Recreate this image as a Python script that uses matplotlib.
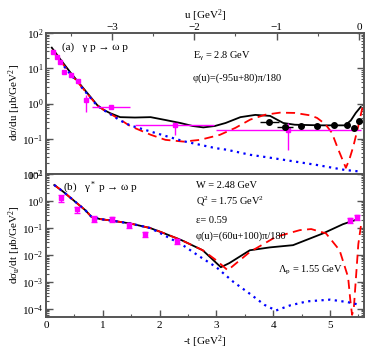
import numpy as np
import matplotlib.pyplot as plt
from matplotlib.ticker import MultipleLocator, LogLocator, NullFormatter

plt.rcParams['font.family'] = ['Liberation Serif', 'DejaVu Serif']
plt.rcParams['mathtext.fontset'] = 'custom'
plt.rcParams['mathtext.rm'] = 'Liberation Serif'
plt.rcParams['mathtext.it'] = 'Liberation Serif:italic'
plt.rcParams['mathtext.bf'] = 'Liberation Serif:bold'

# --- panel (a): photoproduction, x is u [GeV^2] ---
u_black = [-3.73, -3.62, -3.50, -3.38, -3.26, -3.18, -3.10, -3.02, -2.90, -2.72, -2.53, -2.35,
           -2.17, -2.02, -1.89, -1.75, -1.62, -1.44, -1.26, -1.08, -0.92, -0.78, -0.47, -0.17,
           -0.10, -0.04, 0.02]
a_black = [38.4, 17.2, 7.4, 3.37, 1.54, 0.91, 0.66, 0.53, 0.41, 0.40, 0.41, 0.34,
           0.28, 0.23, 0.21, 0.23, 0.28, 0.41, 0.475, 0.445, 0.28, 0.25, 0.24, 0.24,
           0.33, 0.54, 0.80]

u_red = [-3.73, -3.62, -3.50, -3.38, -3.26, -3.18, -3.10, -3.02, -2.90, -2.78, -2.53, -2.35,
         -2.13, -1.93, -1.69, -1.50, -1.32, -1.14, -0.96, -0.78, -0.59, -0.51, -0.41, -0.33,
         -0.26, -0.19, -0.16, -0.12, -0.07, -0.01, 0.04]
a_red = [33.0, 15.5, 6.9, 3.2, 1.48, 0.89, 0.66, 0.51, 0.35, 0.23, 0.13, 0.093,
         0.083, 0.093, 0.129, 0.204, 0.35, 0.48, 0.55, 0.54, 0.46, 0.39, 0.26, 0.148,
         0.055, 0.022, 0.015, 0.025, 0.060, 0.224, 0.76]

u_blue = [-3.73, -3.62, -3.50, -3.38, -3.26, -3.18, -3.10, -3.02, -2.90, -2.78, -2.53, -2.13,
          -1.74, -1.61, -1.32, -1.08, -0.51, -0.17, 0.02]
a_blue = [31.6, 14.8, 6.6, 3.1, 1.45, 0.87, 0.65, 0.50, 0.33, 0.24, 0.16, 0.085,
          0.054, 0.049, 0.035, 0.029, 0.018, 0.013, 0.0117]

u_mag = [-3.72, -3.67, -3.63, -3.58, -3.50, -3.41, -3.31, -3.01, -2.24, -0.86]
a_mag = [29.5, 21.0, 15.5, 7.9, 6.5, 4.4, 1.26, 0.81, 0.25, 0.177]
a_mag_lo = [3.0, 2.0, 1.5, 0.8, 0.6, 0.5, 0.67, 0.10, 0.12, 0.128]
a_mag_hi = [3.0, 2.0, 1.5, 0.8, 0.6, 0.5, 0.50, 0.10, 0.03, 0.10]
u_mag_err = [0.0, 0.0, 0.0, 0.0, 0.0, 0.0, 0.0, 0.23, 0.48, 0.88]

u_circ = [-1.09, -0.90, -0.70, -0.51, -0.30, -0.15, -0.06, 0.0]
a_circ = [0.30, 0.22, 0.23, 0.23, 0.245, 0.24, 0.20, 0.31]
a_circ_err = [0.03, 0.025, 0.02, 0.02, 0.02, 0.02, 0.02, 0.03]
u_circ_err = [0.115, 0.10, 0.03, 0.03, 0.03, 0.03, 0.02, 0.0]

# --- panel (b): electroproduction, x is -t [GeV^2] ---
t_black = [0.146, 0.305, 0.48, 0.69, 0.80, 0.95, 1.18, 1.48, 1.83, 2.02, 2.39, 2.76,
           3.08, 3.23, 3.59, 3.94, 4.35, 4.88, 5.23, 5.49]
b_black = [3.9, 2.2, 1.08, 0.46, 0.26, 0.214, 0.184, 0.147, 0.10, 0.071, 0.035, 0.0149,
           0.0035, 0.005, 0.0149, 0.019, 0.023, 0.063, 0.138, 0.21]

t_red = [0.146, 0.305, 0.48, 0.69, 0.80, 0.95, 1.18, 1.48, 1.83, 2.02, 2.39, 2.76,
         3.0, 3.2, 3.59, 4.05, 4.47, 4.67, 4.93, 5.17, 5.32, 5.36, 5.39, 5.42, 5.46,
         5.50, 5.55]
b_red = [3.9, 2.2, 1.08, 0.46, 0.26, 0.214, 0.184, 0.147, 0.10, 0.071, 0.035, 0.0149,
         0.0063, 0.0027, 0.0129, 0.047, 0.083, 0.091, 0.063, 0.0149, 0.0015, 0.0002,
         0.00006, 0.0001, 0.0016, 0.025, 0.14]

t_blue = [0.146, 0.305, 0.48, 0.69, 0.80, 0.95, 1.18, 1.48, 1.83, 2.02, 2.41, 2.7,
          3.0, 3.3, 3.6, 3.85, 4.05, 4.3, 4.6, 5.0, 5.3, 5.47]
b_blue = [3.9, 2.2, 1.08, 0.46, 0.26, 0.214, 0.184, 0.147, 0.10, 0.063, 0.023, 0.0089,
          0.0035, 0.001, 0.00035, 0.00014, 0.000087, 0.000135, 0.00019, 0.00022, 0.00018,
          0.00015]

t_mag = [0.26, 0.55, 0.85, 1.16, 1.47, 1.74, 2.30, 5.35, 5.47]
b_mag = [1.25, 0.49, 0.22, 0.21, 0.126, 0.059, 0.032, 0.195, 0.245]
b_mag_err = [0.35, 0.12, 0.05, 0.05, 0.025, 0.013, 0.007, 0.04, 0.045]

fig = plt.figure(figsize=(3.66, 3.49), dpi=100)
ax1 = fig.add_axes([46/366, 1-174/349, 318/366, 141/349])
ax2 = fig.add_axes([46/366, 1-317/349, 318/366, 143/349])

fs = 8
spc = '#555555'

# panel (a)
ax1.plot(u_black, a_black, color='black', lw=1.3, zorder=3)
ax1.plot(u_red, a_red, color='red', lw=1.3, ls=(0, (5, 3)), zorder=3)
ax1.plot(u_blue, a_blue, color='blue', lw=1.6, ls=(0, (1, 2)), zorder=3)
ax1.errorbar(u_mag, a_mag, xerr=u_mag_err, yerr=[a_mag_lo, a_mag_hi], fmt='s',
             color='magenta', ms=3.5, elinewidth=1, capsize=0, zorder=4)
ax1.errorbar(u_circ, a_circ, xerr=u_circ_err, yerr=a_circ_err, fmt='o',
             color='black', ms=4, elinewidth=1, capsize=0, zorder=5)
ax1.set_yscale('log')
ax1.set_xlim(-3.8, 0.06)
ax1.set_ylim(1e-2, 1e2)
ax1.xaxis.tick_top()
ax1.xaxis.set_label_position('top')
ax1.xaxis.set_major_locator(MultipleLocator(1))
ax1.xaxis.set_minor_locator(MultipleLocator(0.5))
ax1.set_xlabel('u [GeV$^2$]', fontsize=fs, labelpad=3)
ax1.text(0.05, 0.90, '(a)   γ p → ω p', transform=ax1.transAxes, fontsize=fs, va='center')
ax1.text(0.462, 0.837, 'E$_{\\mathrm{γ}}$ = 2.8 GeV', transform=ax1.transAxes, fontsize=7.5, va='center')
ax1.text(0.462, 0.681, 'φ(u)=(-95u+80)π/180', transform=ax1.transAxes, fontsize=7.5, va='center')

# panel (b)
ax2.plot(t_black, b_black, color='black', lw=1.3, zorder=3)
ax2.plot(t_red, b_red, color='red', lw=1.3, ls=(0, (5, 3)), zorder=3)
ax2.plot(t_blue, b_blue, color='blue', lw=1.6, ls=(0, (1, 2)), zorder=3)
ax2.errorbar(t_mag, b_mag, yerr=b_mag_err, fmt='s', color='magenta', ms=3.5,
             elinewidth=1, capsize=2.5, zorder=4)
ax2.set_yscale('log')
ax2.set_xlim(0, 5.6)
ax2.set_ylim(5e-5, 10)
ax2.xaxis.set_major_locator(MultipleLocator(1))
ax2.xaxis.set_minor_locator(MultipleLocator(0.5))
ax2.set_xlabel('-t [GeV$^2$]', fontsize=fs, labelpad=2.5)
ax2.text(0.053, 0.902, '(b)   γ$^*$ p → ω p', transform=ax2.transAxes, fontsize=fs, va='center')
ax2.text(0.472, 0.923, 'W = 2.48 GeV', transform=ax2.transAxes, fontsize=7.5, va='center')
ax2.text(0.472, 0.806, 'Q$^2$ = 1.75 GeV$^2$', transform=ax2.transAxes, fontsize=7.5, va='center')
ax2.text(0.472, 0.678, 'ε= 0.59', transform=ax2.transAxes, fontsize=7.5, va='center')
ax2.text(0.472, 0.566, 'φ(u)=(60u+100)π/180', transform=ax2.transAxes, fontsize=7.5, va='center')
ax2.text(0.73, 0.329, 'Λ$_{\\mathrm{p}}$ = 1.55 GeV', transform=ax2.transAxes, fontsize=7.5, va='center')

for ax in (ax1, ax2):
    ax.yaxis.set_major_locator(LogLocator(base=10, numticks=12))
    ax.yaxis.set_minor_locator(LogLocator(base=10, subs=np.arange(2, 10), numticks=12))
    ax.yaxis.set_minor_formatter(NullFormatter())
    ax.tick_params(which='both', direction='in', right=True, colors=spc, labelcolor='black',
                   labelsize=fs, pad=2)
    ax.tick_params(which='major', length=5, width=1)
    ax.tick_params(which='minor', length=2.5, width=0.8)
    for s in ax.spines.values():
        s.set_color(spc)
        s.set_linewidth(1.4)
ax1.tick_params(which='both', bottom=False, top=True)
ax1.tick_params(axis='x', pad=0.5)
ax2.tick_params(axis='x', pad=3)

fig.text(15/366, 1-103/349, 'dσ/du [μb/GeV$^2$]', rotation=90, ha='center', va='center', fontsize=fs)
fig.text(15/366, 1-245/349, 'dσ$_{\\mathrm{u}}$/dt [μb/GeV$^2$]', rotation=90, ha='center', va='center', fontsize=fs)

fig.savefig('out.png', dpi=100)
